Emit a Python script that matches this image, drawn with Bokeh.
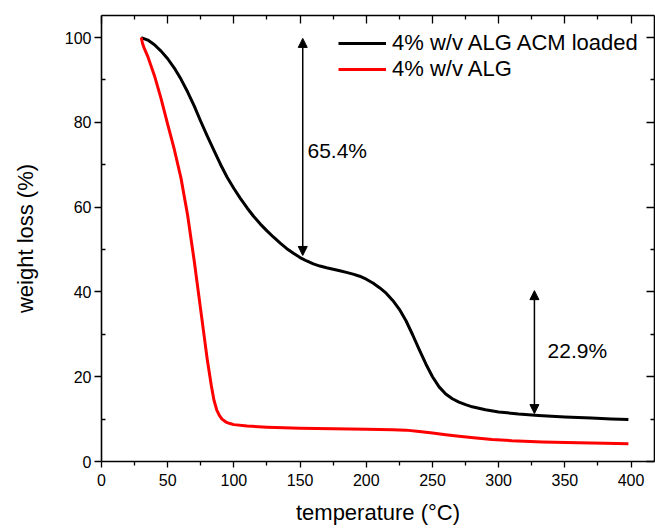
from bokeh.plotting import figure
from bokeh.models import (Range1d, LinearAxis, FixedTicker, Legend, LegendItem,
                          Arrow, NormalHead, Label, CustomJSTickFormatter)
from bokeh.embed import file_html
from bokeh.resources import INLINE

# ---- data ----
temp_loaded = [30, 35, 40, 45, 50, 55, 60, 65, 70, 75, 80, 85, 90, 95, 100, 105, 110, 115,
               120, 125, 130, 135, 140, 145, 150, 155, 160, 165, 170, 175, 180, 185, 190,
               195, 200, 205, 210, 215, 220, 225, 230, 235, 240, 245, 250, 255, 260, 265,
               270, 275, 280, 290, 300, 315, 330, 350, 370, 385, 398]
wl_loaded = [100, 99.4, 98.3, 96.8, 95.0, 92.8, 90.2, 87.2, 83.9, 80.2, 76.7, 73.3, 70.0,
             67.0, 64.4, 62.0, 59.8, 57.8, 56.0, 54.4, 52.9, 51.5, 50.2, 49.1, 48.1, 47.3,
             46.6, 46.1, 45.7, 45.35, 45.0, 44.6, 44.2, 43.7, 43.0, 42.1, 41.0, 39.7, 38.0,
             35.9, 33.2, 29.9, 26.4, 23.0, 20.0, 17.6, 15.9, 14.8, 14.0, 13.4, 12.9, 12.2,
             11.7, 11.2, 10.85, 10.5, 10.25, 10.05, 9.9]

temp_alg = [30, 31, 32, 35, 40, 45, 50, 55, 60, 65, 70, 75, 80, 83, 85, 87, 89, 91, 94, 97,
            100, 110, 125, 150, 175, 200, 220, 230, 240, 250, 260, 270, 283, 295, 310, 333,
            360, 380, 398]
wl_alg = [100, 98.6, 97.7, 95.5, 91.0, 85.6, 79.5, 73.6, 66.9, 58.2, 47.4, 35.6, 23.8,
          17.8, 14.4, 12.2, 10.9, 10.0, 9.3, 8.95, 8.7, 8.35, 8.1, 7.85, 7.7, 7.6, 7.5, 7.4,
          7.1, 6.7, 6.3, 5.95, 5.55, 5.2, 4.9, 4.6, 4.4, 4.3, 4.2]

series_names = ["4% w/v ALG ACM loaded", "4% w/v ALG"]

x_major = [0, 50, 100, 150, 200, 250, 300, 350, 400]
x_minor = [25, 75, 125, 175, 225, 275, 325, 375]
y_major = [0, 20, 40, 60, 80, 100]
y_minor = [10, 30, 50, 70, 90]

# annotation arrows: (x, y_low, y_high, label, label_x, label_y)
arrow1 = (152, 48.6, 99.8, "65.4%", 155.6, 73.3)
arrow2 = (327, 11.3, 40.3, "22.9%", 336.9, 26.2)

FONT = "Liberation Sans"

p = figure(width=655, height=529, output_backend="svg", toolbar_location=None,
           x_range=Range1d(0, 417.7), y_range=Range1d(0, 105.2),
           min_border_left=101, min_border_top=15, min_border_bottom=68,
           min_border_right=1)
p.grid.visible = False
p.outline_line_color = None
p.background_fill_color = "white"
p.border_fill_color = "white"

blank = CustomJSTickFormatter(code="return ''")

# bottom axis
xa = p.xaxis[0]
xa.ticker = FixedTicker(ticks=x_major, minor_ticks=x_minor)
xa.axis_label = "temperature (°C)"
# left axis
ya = p.yaxis[0]
ya.ticker = FixedTicker(ticks=y_major, minor_ticks=y_minor)
ya.axis_label = "weight loss (%)"

for ax in (xa, ya):
    ax.axis_line_width = 1.6
    ax.axis_line_color = "black"
    ax.major_tick_line_color = "black"
    ax.minor_tick_line_color = "black"
    ax.major_tick_line_width = 1.3
    ax.minor_tick_line_width = 1.3
    ax.major_label_text_font = FONT
    ax.major_label_text_font_size = "16px"
    ax.major_label_text_color = "black"
    ax.axis_label_text_font = FONT
    ax.axis_label_text_font_size = "22px"
    ax.axis_label_text_font_style = "normal"
    ax.axis_label_text_color = "black"

xa.major_tick_out = 6
xa.major_tick_in = 0
xa.minor_tick_out = 4
xa.minor_tick_in = 0
xa.major_label_standoff = 6
xa.axis_label_standoff = 11

ya.major_tick_out = 7
ya.major_tick_in = 0
ya.minor_tick_out = 0
ya.minor_tick_in = 4
ya.major_label_standoff = 3
ya.axis_label_standoff = 24

top = LinearAxis(ticker=FixedTicker(ticks=x_major, minor_ticks=x_minor), formatter=blank,
                 major_tick_in=8, major_tick_out=0, minor_tick_in=4, minor_tick_out=0,
                 major_label_standoff=0, axis_line_width=1.6,
                 major_tick_line_width=1.3, minor_tick_line_width=1.3)
right = LinearAxis(ticker=FixedTicker(ticks=y_major, minor_ticks=y_minor), formatter=blank,
                   major_tick_in=8, major_tick_out=0, minor_tick_in=4, minor_tick_out=0,
                   major_label_standoff=0, axis_line_width=1.6,
                   major_tick_line_width=1.3, minor_tick_line_width=1.3)
p.add_layout(top, "above")
p.add_layout(right, "right")

r1 = p.line(temp_loaded, wl_loaded, line_color="black", line_width=3, line_join="round")
r2 = p.line(temp_alg, wl_alg, line_color="#ff0000", line_width=3, line_join="round")

legend = Legend(items=[LegendItem(label=series_names[0], renderers=[r1]),
                       LegendItem(label=series_names[1], renderers=[r2])],
                location=(237, 379), glyph_width=48, glyph_height=26, label_height=26,
                label_standoff=6, padding=0, spacing=0, margin=0,
                border_line_color=None, background_fill_alpha=0,
                label_text_font=FONT, label_text_font_size="22px",
                label_text_color="black")
p.add_layout(legend)

for (ax_, ylo, yhi, txt, lx, ly) in (arrow1, arrow2):
    p.add_layout(Arrow(x_start=ax_, y_start=ylo, x_end=ax_, y_end=yhi,
                       line_color="black", line_width=1.5,
                       start=NormalHead(size=9, fill_color="black", line_color="black"),
                       end=NormalHead(size=9, fill_color="black", line_color="black")))
    p.add_layout(Label(x=lx, y=ly, text=txt, text_baseline="middle",
                       text_font=FONT, text_font_size="21px", text_color="black"))

open("out.html", "w").write(file_html(p, INLINE))
